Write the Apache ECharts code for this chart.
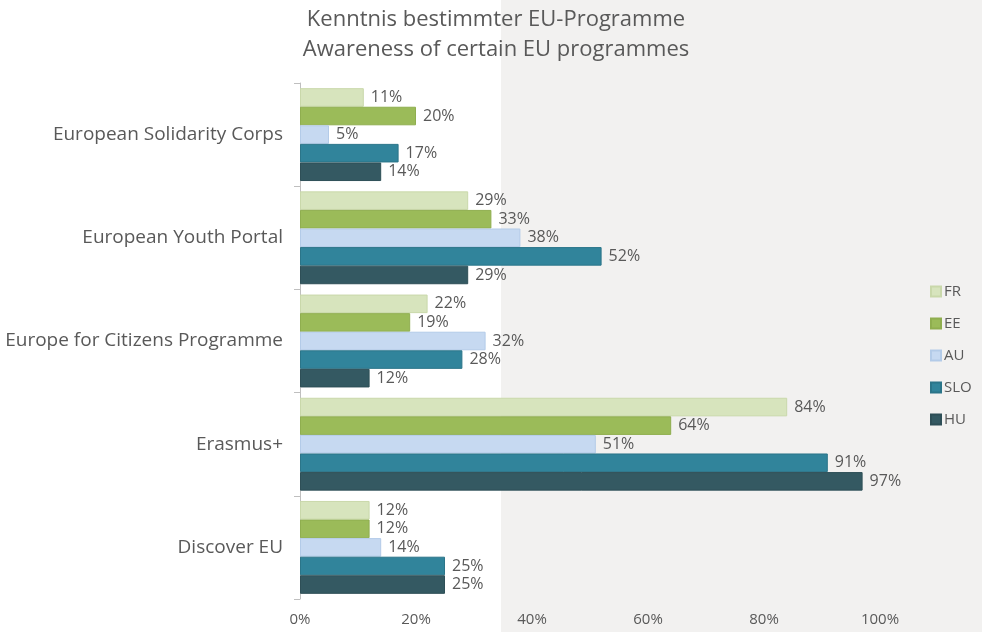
<!DOCTYPE html>
<html>
<head>
<meta charset="utf-8">
<script src="https://cdn.jsdelivr.net/npm/echarts@6/dist/echarts.min.js"></script>
<style>
  html, body { margin: 0; padding: 0; background: #fff; }
  #chart { width: 982px; height: 632px; }
</style>
</head>
<body>
<div id="chart"></div>
<script>
// categories top to bottom
const programmes = [
  'European Solidarity Corps',
  'European Youth Portal',
  'Europe for Citizens Programme',
  'Erasmus+',
  'Discover EU'
];
const countries = ['FR', 'EE', 'AU', 'SLO', 'HU'];

// values in % per country, same order as programmes
const fr  = [11, 29, 22, 84, 12];
const ee  = [20, 33, 19, 64, 12];
const au  = [5, 38, 32, 51, 14];
const slo = [17, 52, 28, 91, 25];
const hu  = [14, 29, 12, 97, 25];

const xTicks = [0, 20, 40, 60, 80, 100];

const colors = ['#d7e4bd', '#9bbb59', '#c6d9f1', '#31849b', '#345962'];
const borders = ['#c9d8aa', '#8fae4f', '#b3cbe8', '#2b7589', '#2e4f57'];
const textGray = '#595959';
const font = '"Open Sans", sans-serif';

const chart = echarts.init(document.getElementById('chart'));

const values = [fr, ee, au, slo, hu];
const series = countries.map((name, i) => ({
  name: name,
  type: 'bar',
  data: values[i],
  barCategoryGap: '10%',
  barGap: '0%',
  itemStyle: { color: colors[i], borderColor: borders[i], borderWidth: 1 },
  label: {
    show: true,
    position: 'right',
    distance: 7,
    formatter: '{c}%',
    color: textGray,
    fontSize: 16,
    fontFamily: font,
    padding: [4, 0, 0, 0]
  }
}));

const option = {
  backgroundColor: '#ffffff',
  animation: false,
  graphic: [{
    type: 'rect',
    z: -10,
    shape: { x: 501, y: 0, width: 481, height: 632 },
    style: { fill: '#f2f1f0' },
    silent: true
  }],
  title: {
    text: 'Kenntnis bestimmter EU-Programme\nAwareness of certain EU programmes',
    left: 491,
    textAlign: 'center',
    top: 0,
    textStyle: {
      color: textGray,
      fontSize: 22,
      fontWeight: 'normal',
      fontFamily: font,
      lineHeight: 30
    }
  },
  legend: {
    data: countries,
    orient: 'vertical',
    left: 925,
    top: 276,
    itemWidth: 10,
    itemHeight: 10,
    itemGap: 11,
    icon: 'rect',
    textStyle: { color: textGray, fontSize: 15, fontFamily: font, padding: [0, 0, 0, -2], lineHeight: 21 }
  },
  grid: { left: 300, right: 102, top: 83, bottom: 33 },
  xAxis: {
    type: 'value',
    min: 0,
    max: 100,
    interval: 20,
    axisLine: { show: false },
    axisTick: { show: false },
    splitLine: { show: false },
    axisLabel: {
      color: textGray,
      fontSize: 15,
      fontFamily: font,
      margin: 13,
      formatter: v => xTicks.includes(v) ? v + '%' : ''
    }
  },
  yAxis: {
    type: 'category',
    data: programmes,
    inverse: true,
    axisLine: { show: true, lineStyle: { color: '#bfbfbf' } },
    axisTick: { show: true, length: 6, lineStyle: { color: '#bfbfbf' } },
    axisLabel: {
      color: textGray,
      fontSize: 19,
      fontFamily: font,
      margin: 17,
      padding: [0, 0, 9, 0]
    }
  },
  series: series
};

chart.setOption(option);
window.addEventListener('resize', () => chart.resize());
</script>
</body>
</html>
